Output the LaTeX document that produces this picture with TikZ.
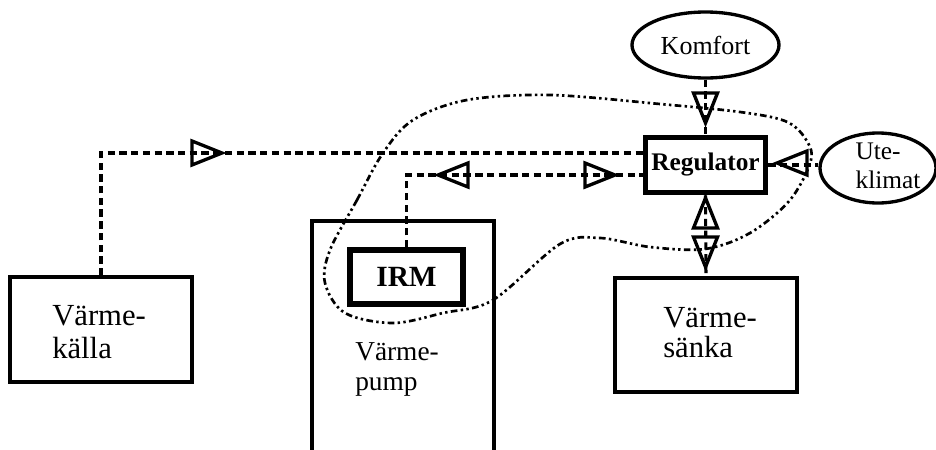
\documentclass[tikz,border=0pt]{standalone}
\usepackage{fontspec}
\setmainfont{Liberation Serif}
\usetikzlibrary{shapes.geometric}
\tikzset{
  thinbox/.style={draw, line width=2.3pt, rectangle, inner sep=0pt},
  thickbox/.style={draw, line width=4.3pt, rectangle, inner sep=0pt},
  oval/.style={draw, line width=2.5pt, ellipse, inner sep=0pt},
  lbl/.style={anchor=base west, inner sep=0pt, font=\fontsize{23}{25}\selectfont},
  plbl/.style={anchor=base west, inner sep=0pt, font=\fontsize{20.5}{22.5}\selectfont},
  dline/.style={line width=2.3pt, dash pattern=on 5.5pt off 3.3pt},
  blob/.style={line width=2pt, dash pattern=on 5pt off 2.5pt on 1.8pt off 2.5pt on 1.8pt off 2.5pt},
  otri/.pic={\draw[solid, line width=2.5pt, line join=miter] (0,0) -- (-30,-12) -- (-30,12) -- cycle;}
}
\begin{document}
\begin{tikzpicture}[x=0.75pt, y=-0.75pt]
\useasboundingbox (0,0) rectangle (936,450);

% boxes
\node[thinbox, minimum width=136.5pt, minimum height=78.75pt] (kalla) at (101,329.5) {};
\node[thinbox, minimum width=136.5pt, minimum height=85.5pt] (sanka) at (706,335) {};
\draw[line width=2.3pt] (312,450) -- (312,221) -- (494,221) -- (494,450);
\node[thickbox, minimum width=84.75pt, minimum height=40.5pt, font=\bfseries\fontsize{22}{24}\selectfont] (irm) at (406.5,277) {IRM};
\node[thickbox, minimum width=90pt, minimum height=41.25pt, font=\bfseries\fontsize{19}{21}\selectfont] (reg) at (705.5,165) {Regulator};

% box labels
\node[lbl] (kallaa) at (52,325) {Värme-};
\node[lbl] (kallab) at (52,358) {källa};
\node[lbl] (sankaa) at (663,327) {Värme-};
\node[lbl] (sankab) at (663,357) {sänka};
\node[plbl] (pumpa) at (355,360) {Värme-};
\node[plbl] (pumpb) at (355,390) {pump};

% ellipses
\node[oval, minimum width=110.25pt, minimum height=49.5pt, font=\fontsize{19.5}{21}\selectfont] (komf) at (705.5,45) {Komfort};
\node[oval, minimum width=87pt, minimum height=52.5pt] (ute) at (878,168) {};
\node[align=left, inner sep=0pt, font=\fontsize{19}{21.75}\selectfont] (utetext) at (888,166) {Ute-\\klimat};

% connectors
\draw[dline] (kalla.north) |- ([yshift=9pt]reg.west);
\draw[dline] (irm.north) |- ([yshift=-7.5pt]reg.west);
\draw[dline] (komf.south) -- (reg.north);
\draw[dline] (reg.east) -- (reg.east -| ute.west);
\draw[dline] (reg.south) -- (sanka.north);

% open triangles
\pic at (222,153) {otri};
\pic[rotate=180] at (438,175) {otri};
\pic at (615,175) {otri};
\pic[rotate=-90] at (705.5,123) {otri};
\pic[rotate=180] at (777,163) {otri};
\pic[rotate=90] at (705.5,198) {otri};
\pic[rotate=-90] at (705.5,267) {otri};

% dash-dot-dot boundary
\draw[blob] plot[smooth cycle, tension=0.55] coordinates {
  (330,250) (357,200) (383,153) (413,120) (467,100) (550,95) (660,104)
  (740,112) (785,121) (805,138) (811,160) (790,200) (750,233) (705,249)
  (650,247) (600,238) (560,244) (493,300) (443,313) (393,323) (345,313) (325,283)};
\end{tikzpicture}
\end{document}
